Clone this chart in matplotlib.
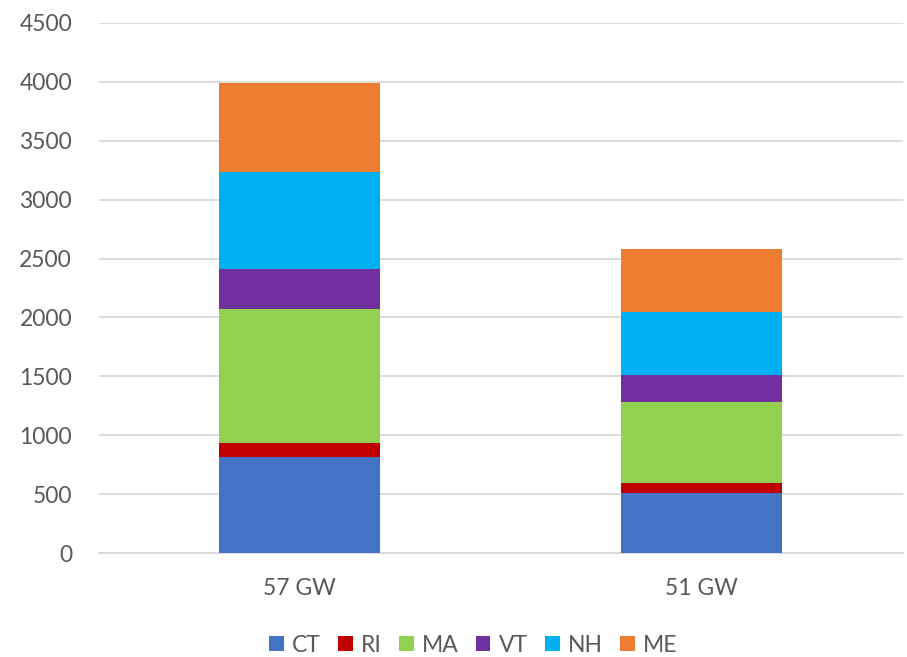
import matplotlib
matplotlib.use("Agg")
import matplotlib.pyplot as plt
import numpy as np

categories = ["57 GW", "51 GW"]
series_names = ["CT", "RI", "MA", "VT", "NH", "ME"]
CT = [819, 511]
RI = [116, 83]
MA = [1134, 687]
VT = [342, 234]
NH = [826, 532]
ME = [755, 531]
series_values = [CT, RI, MA, VT, NH, ME]
colors = ["#4472C4", "#C00000", "#92D050", "#7030A0", "#00B0F0", "#ED7D31"]
y_ticks = [0, 500, 1000, 1500, 2000, 2500, 3000, 3500, 4000, 4500]

plt.rcParams["font.family"] = ["Lato", "DejaVu Sans"]

fig = plt.figure(figsize=(9.07, 6.57), dpi=100)
ax = fig.add_axes([98.5 / 907, 1 - 553.3 / 657, 804 / 907, 530.6 / 657])

x = np.arange(len(categories))
bottom = np.zeros(len(categories))
for name, vals, c in zip(series_names, series_values, colors):
    ax.bar(x, vals, width=0.4, bottom=bottom, color=c, label=name, zorder=3)
    bottom += np.array(vals)

ax.set_xlim(-0.5, 1.5)
ax.set_ylim(0, 4500)
ax.set_yticks(y_ticks)
ax.set_xticks(x)
ax.set_xticklabels(categories)
ax.grid(axis="y", color="#d9d9d9", linewidth=1.3, zorder=0)
for s in ["top", "right", "left"]:
    ax.spines[s].set_visible(False)
ax.spines["bottom"].set_color("#d9d9d9")
ax.spines["bottom"].set_linewidth(1.3)
ax.tick_params(axis="both", length=0, labelsize=16.5, colors="#595959")
ax.tick_params(axis="y", pad=19)
ax.tick_params(axis="x", pad=18)

leg = fig.legend(loc="center", bbox_to_anchor=(473 / 907, 1 - 645 / 657), ncol=6,
                 frameon=False, fontsize=16.5, handlelength=0.65, handleheight=0.65,
                 handletextpad=0.35, columnspacing=0.75)
for t in leg.get_texts():
    t.set_color("#595959")

fig.savefig("out.png", dpi=100)
